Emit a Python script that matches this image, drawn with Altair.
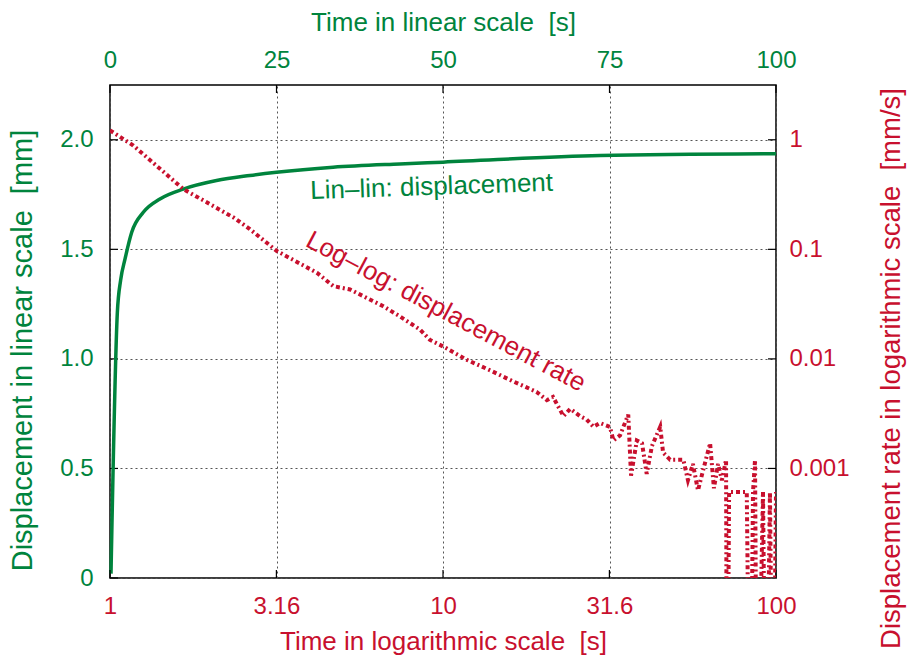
import altair as alt
import pandas as pd

GREEN = "#00843d"
RED = "#c8102e"
FONT = "Liberation Sans"

# Lin-lin: displacement vs time (linear scales, top/left axes)
GREEN_T = [0.15, 1.1, 1.6, 2.25, 3.26, 5.0, 7.5, 11, 16, 21, 25, 33.5, 43.5, 50, 73.6, 100]
GREEN_D = [0.02, 1.21, 1.36, 1.455, 1.578, 1.669, 1.73, 1.775, 1.814, 1.837, 1.852, 1.875, 1.89, 1.898, 1.928, 1.936]

# Log-log: displacement rate vs time (log scales, bottom/right axes)
RED_T = [1.0, 1.175, 1.66, 2.35, 2.63, 3.17, 4.18, 4.69, 5.26, 6.62, 7.43, 8.53, 9.14, 10.0,
         11.8, 13.8, 16.3, 19.1, 20.5, 21.4, 23.0, 24.1, 25.8, 27.0, 28.3, 29.6, 31.7, 32.5,
         34.0, 36.0, 36.7, 38.2, 39.6, 40.9, 42.4, 44.9, 45.8, 48.1, 52.7, 54.4, 56.3, 58.3,
         60.4, 63.4, 65.1, 67.0, 68.8, 70.8, 71.3, 72.3, 81.7, 83.6, 85.3, 86.5, 87.7, 91.4,
         93.3, 95.9, 97.9, 100]
RED_R = [1.22, 0.886, 0.355, 0.195, 0.153, 0.0965, 0.0611, 0.0461, 0.043, 0.0302, 0.0244,
         0.0185, 0.0149, 0.013, 0.0098, 0.0079, 0.0062, 0.0050, 0.0042, 0.0045, 0.0030, 0.0035,
         0.0030, 0.0028, 0.0024, 0.0026, 0.0024, 0.0018, 0.0020, 0.0031, 0.00086, 0.0018, 0.0017,
         0.00089, 0.0016, 0.0024, 0.0014, 0.0012, 0.0012, 0.00078, 0.0011, 0.00063, 0.00096,
         0.0017, 0.00066, 0.0011, 0.00078, 0.0012, 0, 0.00061, 0.00061, 0, 0.00061, 0.0012, 0,
         0.00061, 0, 0.00061, 0, 0.00061]

LIN_TICKS = [0, 25, 50, 75, 100]
DISP_TICKS = [0, 0.5, 1.0, 1.5, 2.0]
LOG_T_TICKS = [1, 3.16, 10, 31.6, 100]
RATE_TICKS = [0.001, 0.01, 0.1, 1]

LABEL_GREEN = ["Lin\u2013lin: displacement"]
LABEL_GREEN_T = [48.3]
LABEL_GREEN_D = [1.785]
LABEL_RED = ["Log\u2013log: displacement rate"]
LABEL_RED_T = [10.2]
LABEL_RED_R = [0.027]

green_df = pd.DataFrame({"t": GREEN_T, "d": GREEN_D})
red_df = pd.DataFrame({"t": RED_T, "r": RED_R})
gtxt_df = pd.DataFrame({"t": LABEL_GREEN_T, "d": LABEL_GREEN_D, "txt": LABEL_GREEN})
rtxt_df = pd.DataFrame({"t": LABEL_RED_T, "r": LABEL_RED_R, "txt": LABEL_RED})

W, H = 666, 493
LAB = 24
TIT = 26

common_axis = dict(domain=False, ticks=False, labelFont=FONT, titleFont=FONT,
                   labelFontSize=LAB, titleFontWeight="normal", labelFlush=False)

x_lin = alt.X("t:Q", scale=alt.Scale(domain=[0, 100], nice=False, zero=False),
              axis=alt.Axis(orient="top", values=LIN_TICKS, title="Time in linear scale \u00a0[s]",
                            labelColor=GREEN, titleColor=GREEN, grid=True,
                            gridColor="#555", gridDash=[2, 3], gridWidth=1,
                            labelPadding=13, titlePadding=13, titleFontSize=TIT, **common_axis))
y_lin = alt.Y("d:Q", scale=alt.Scale(domain=[0, 2.25], nice=False, zero=False),
              axis=alt.Axis(orient="left", values=DISP_TICKS,
                            labelExpr="datum.value == 0 ? '0' : format(datum.value, '.1f')",
                            title="Displacement in linear scale \u00a0[mm]",
                            labelColor=GREEN, titleColor=GREEN, grid=True,
                            gridColor="#555", gridDash=[2, 3], gridWidth=1,
                            labelPadding=17, titlePadding=22, titleFontSize=29, titleY=265,
                            **common_axis))

x_log = alt.X("t:Q", scale=alt.Scale(type="log", domain=[1, 100], nice=False),
              axis=alt.Axis(orient="bottom", values=LOG_T_TICKS, format="~g",
                            title="Time in logarithmic scale \u00a0[s]",
                            labelColor=RED, titleColor=RED, grid=False,
                            labelPadding=16, titlePadding=10, titleFontSize=TIT, **common_axis))
y_log = alt.Y("rp:Q", scale=alt.Scale(type="log", domain=[1e-4, 3.16228], nice=False),
              axis=alt.Axis(orient="right", values=RATE_TICKS, format="~g",
                            title="Displacement rate in logarithmic scale \u00a0[mm/s]",
                            labelColor=RED, titleColor=RED, grid=False,
                            labelPadding=13, titlePadding=28, titleFontSize=27.5,
                            titleAngle=270, titleBaseline="top", titleY=283, **common_axis))

green_line = alt.Chart(green_df).mark_line(color=GREEN, strokeWidth=3.5, interpolate="monotone").encode(
    x=x_lin, y=y_lin)
green_text = alt.Chart(gtxt_df).mark_text(color=GREEN, font=FONT, fontSize=TIT, angle=358,
                                          align="center", baseline="middle").encode(
    x=x_lin, y=y_lin, text="txt:N")

# inward ticks (gnuplot style) on top and left
top_ticks = alt.Chart(pd.DataFrame({"t": LIN_TICKS})).mark_rule(color="black", strokeWidth=1.2).encode(
    x=x_lin, y=alt.value(0), y2=alt.value(8))
left_ticks = alt.Chart(pd.DataFrame({"d": DISP_TICKS})).mark_rule(color="black", strokeWidth=1.2).encode(
    y=y_lin, x=alt.value(0), x2=alt.value(8))

red_line = alt.Chart(red_df).transform_calculate(
    rp="max(datum.r, 1e-6)"
).mark_line(color=RED, strokeWidth=4, strokeDash=[4, 3, 2, 3], clip=True).encode(
    x=x_log, y=y_log)
red_text = alt.Chart(rtxt_df).transform_calculate(rp="datum.r").mark_text(
    color=RED, font=FONT, fontSize=TIT, angle=28, align="center", baseline="middle").encode(
    x=x_log, y=y_log, text="txt:N")
bottom_ticks = alt.Chart(pd.DataFrame({"t": LOG_T_TICKS})).mark_rule(color="black", strokeWidth=1.2).encode(
    x=x_log, y=alt.value(H - 8), y2=alt.value(H))
right_ticks = alt.Chart(pd.DataFrame({"rp": RATE_TICKS})).mark_rule(color="black", strokeWidth=1.2).encode(
    y=y_log, x=alt.value(W - 8), x2=alt.value(W))

green_layer = alt.layer(top_ticks, left_ticks, green_line, green_text)
red_layer = alt.layer(bottom_ticks, right_ticks, red_line, red_text)

chart = alt.layer(green_layer, red_layer).resolve_scale(
    x="independent", y="independent"
).properties(
    width=W, height=H,
    autosize=alt.AutoSizeParams(type="none"),
    padding={"left": 110, "top": 85, "right": 137, "bottom": 82},
    background="white",
).configure_view(stroke="black", strokeWidth=1.5)

chart.save("out.html", embed_options={"renderer": "svg", "actions": False})
